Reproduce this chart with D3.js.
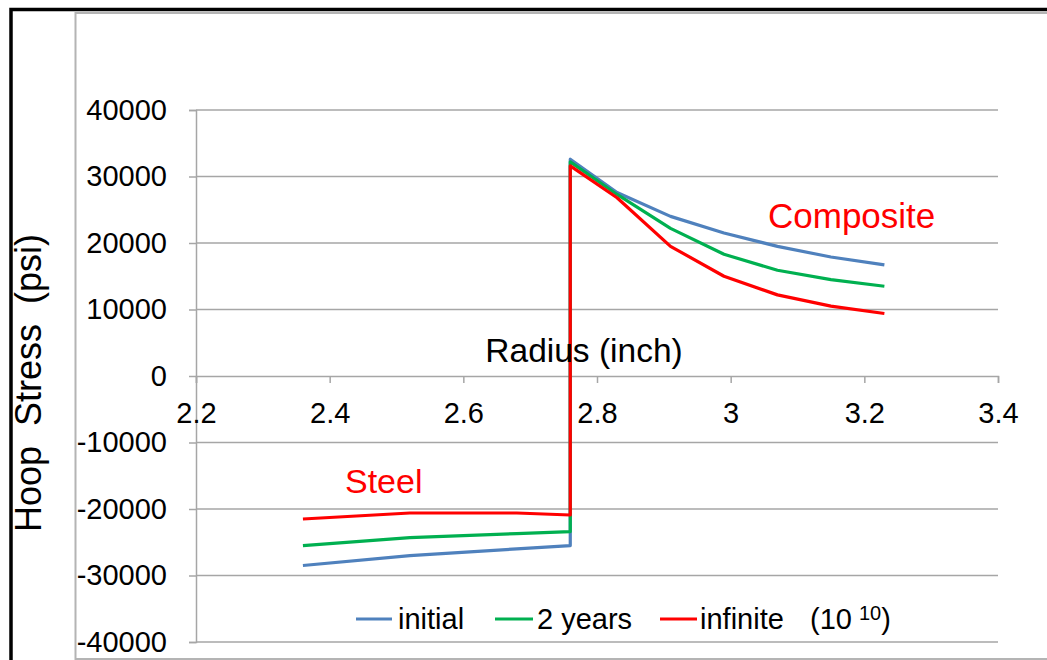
<!DOCTYPE html>
<html>
<head>
<meta charset="utf-8">
<script src="https://cdn.jsdelivr.net/npm/d3@7"></script>
<style>
  html, body { margin: 0; padding: 0; background: #fff; }
  svg { display: block; }
  text { font-family: "Liberation Sans", Arial, sans-serif; }
</style>
</head>
<body>
<svg id="chart" width="1047" height="660"></svg>
<script>
// ---- data ----
const radius    = [2.36, 2.52, 2.68, 2.76, 2.76, 2.83, 2.91, 2.99, 3.07, 3.15, 3.23];
const initial   = [-28500, -27000, -26000, -25500, 32600, 27600, 24000, 21500, 19500, 17900, 16700];
const twoYears  = [-25500, -24300, -23700, -23400, 32200, 27300, 22200, 18300, 15900, 14500, 13500];
const infinite  = [-21500, -20600, -20600, -20900, 31600, 26800, 19500, 15000, 12200, 10500, 9400];
const seriesNames = ["initial", "2 years", "infinite"];
const xTicks = [2.2, 2.4, 2.6, 2.8, 3.0, 3.2, 3.4];
const xTickLabels = ["2.2", "2.4", "2.6", "2.8", "3", "3.2", "3.4"];
const yTicks = [-40000, -30000, -20000, -10000, 0, 10000, 20000, 30000, 40000];
const yTickLabels = ["-40000", "-30000", "-20000", "-10000", "0", "10000", "20000", "30000", "40000"];
const xTitle = "Radius (inch)";
const yTitle = "Hoop  Stress  (psi)";
const annotations = ["Steel", "Composite"];

// ---- layout ----
const svg = d3.select("#chart");
const colors = ["#4F81BD", "#00B050", "#FF0000"];
const x = d3.scaleLinear().domain([2.2, 3.4]).range([196, 998]);
const y = d3.scaleLinear().domain([-40000, 40000]).range([642, 110]);
const gridColor = "#a6a6a6";

// outer frames
svg.append("path").attr("d", "M11,660 L11,9.5 L1047,9.5")
  .attr("fill", "none").attr("stroke", "#000").attr("stroke-width", 3.5);
svg.append("path").attr("d", "M75.5,660 L75.5,13 L1047,13")
  .attr("fill", "none").attr("stroke", "#b4b4b4").attr("stroke-width", 2);
svg.append("line").attr("x1", 75).attr("x2", 1047).attr("y1", 659).attr("y2", 659)
  .attr("stroke", "#b4b4b4").attr("stroke-width", 2);

// horizontal gridlines
svg.append("g").selectAll("line").data(yTicks.filter(v => v !== 0)).join("line")
  .attr("x1", x(2.2)).attr("x2", x(3.4))
  .attr("y1", d => y(d)).attr("y2", d => y(d))
  .attr("stroke", gridColor).attr("stroke-width", 1.5);

// y axis
const yAxis = d3.axisLeft(y).tickValues(yTicks)
  .tickFormat((d, i) => yTickLabels[i]).tickSize(7).tickPadding(22);
const gy = svg.append("g").attr("transform", `translate(${x(2.2)},0)`).call(yAxis);
gy.select(".domain").attr("stroke", gridColor).attr("stroke-width", 1.5);
gy.selectAll(".tick line").attr("stroke", gridColor).attr("stroke-width", 1.5);
gy.selectAll(".tick text").attr("font-size", 29).attr("fill", "#000")
  .attr("font-family", "Liberation Sans, Arial, sans-serif");

// x axis at y = 0
const xAxis = d3.axisBottom(x).tickValues(xTicks)
  .tickFormat((d, i) => xTickLabels[i]).tickSize(7).tickPadding(19);
const gx = svg.append("g").attr("transform", `translate(0,${y(0)})`).call(xAxis);
gx.select(".domain").attr("stroke", gridColor).attr("stroke-width", 1.5);
gx.selectAll(".tick line").attr("stroke", gridColor).attr("stroke-width", 1.5);
gx.selectAll(".tick text").attr("font-size", 29).attr("fill", "#000")
  .attr("font-family", "Liberation Sans, Arial, sans-serif");

// lines
const line = d3.line().x(d => x(d[0])).y(d => y(d[1]));
const allSeries = [initial, twoYears, infinite];
allSeries.forEach((vals, i) => {
  svg.append("path")
    .attr("d", line(radius.map((r, k) => [r, vals[k]])))
    .attr("fill", "none").attr("stroke", colors[i])
    .attr("stroke-width", 3.2).attr("stroke-linejoin", "round");
});

// titles
svg.append("text").attr("x", 584).attr("y", 362).attr("text-anchor", "middle")
  .attr("font-size", 33.5).attr("fill", "#000").text(xTitle);
svg.append("text").attr("transform", "translate(41,383) rotate(-90)")
  .attr("text-anchor", "middle").attr("font-size", 36).attr("fill", "#000")
  .attr("xml:space", "preserve").style("white-space", "pre").text(yTitle);

// annotations
svg.append("text").attr("x", 345).attr("y", 493).attr("font-size", 34)
  .attr("fill", "#FF0000").text(annotations[0]);
svg.append("text").attr("x", 768).attr("y", 228).attr("font-size", 35)
  .attr("fill", "#FF0000").text(annotations[1]);

// legend
const legendItems = [
  { x0: 356, x1: 392, tx: 398 },
  { x0: 495, x1: 533, tx: 537 },
  { x0: 660, x1: 697, tx: 700 }
];
const lg = svg.append("g");
legendItems.forEach((it, i) => {
  lg.append("line").attr("x1", it.x0).attr("x2", it.x1).attr("y1", 619).attr("y2", 619)
    .attr("stroke", colors[i]).attr("stroke-width", 3.2);
  lg.append("text").attr("x", it.tx).attr("y", 629).attr("font-size", 29)
    .attr("fill", "#000").text(seriesNames[i]);
});
const note = lg.append("text").attr("x", 810).attr("y", 629).attr("font-size", 29).attr("fill", "#000");
note.append("tspan").text("(10");
note.append("tspan").attr("dx", 7).attr("dy", -9).attr("font-size", 20).text("10");
note.append("tspan").attr("dy", 9).text(")");
</script>
</body>
</html>
